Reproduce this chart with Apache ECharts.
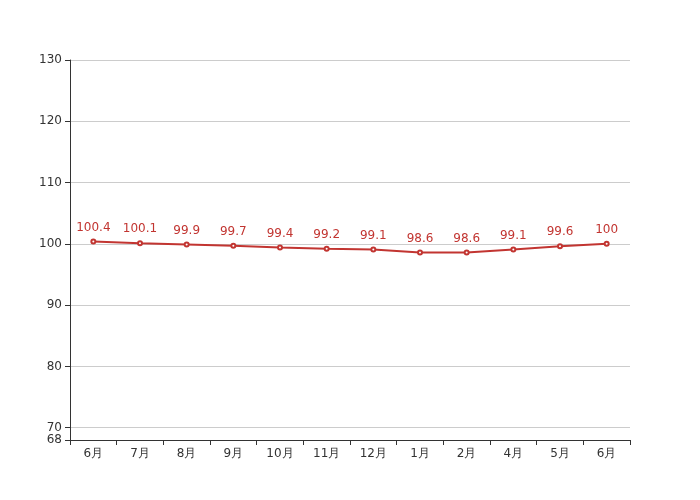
<!DOCTYPE html>
<html><head><meta charset="utf-8">
<script src="https://cdn.jsdelivr.net/npm/echarts@6/dist/echarts.min.js"></script>
<style>html,body{margin:0;padding:0;background:#fff}#c{width:700px;height:500px}</style>
</head><body><div id="c"></div>
<script>
const categories = ['6月','7月','8月','9月','10月','11月','12月','1月','2月','4月','5月','6月'];
const values = [100.4,100.1,99.9,99.7,99.4,99.2,99.1,98.6,98.6,99.1,99.6,100];
const yTicks = [68,70,80,90,100,110,120,130];
const chart = echarts.init(document.getElementById('c'));
const font = 'DejaVu Sans';
chart.setOption({
  animation:false,
  textStyle:{fontFamily:font},
  grid:{left:70,right:70,top:60,bottom:60},
  xAxis:{type:'category',data:categories,boundaryGap:true,
    axisLine:{lineStyle:{color:'#333'}},
    axisTick:{show:true,lineStyle:{color:'#333'}},
    axisLabel:{color:'#333',fontSize:12,fontFamily:font,margin:8}},
  yAxis:{type:'value',min:68,max:130,
    axisLine:{show:true,lineStyle:{color:'#333'}},
    axisTick:{show:true,customValues:yTicks,lineStyle:{color:'#333'}},
    axisLabel:{color:'#333',fontSize:12,fontFamily:font,customValues:yTicks},
    splitLine:{show:true,lineStyle:{color:'#ccc'}}},
  series:[{type:'line',data:values,symbol:'emptyCircle',symbolSize:4,
    itemStyle:{color:'#c23531'},lineStyle:{color:'#c23531',width:2},
    label:{show:true,position:'top',color:'#c23531',fontSize:12,fontFamily:font}}]
});
</script></body></html>
